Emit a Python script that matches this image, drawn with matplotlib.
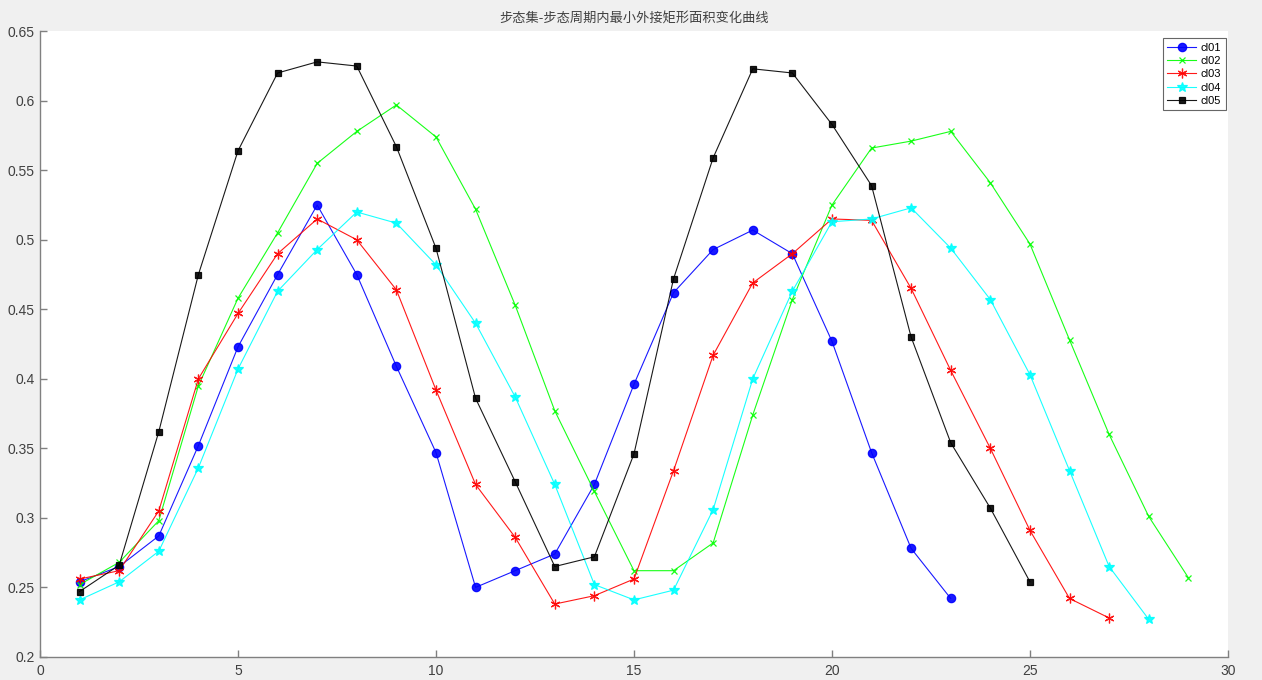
import numpy as np
import matplotlib.pyplot as plt
from matplotlib.ticker import FuncFormatter

plt.rcParams['font.family'] = ['Liberation Sans', 'Noto Sans CJK SC', 'DejaVu Sans']

title = '步态集-步态周期内最小外接矩形面积变化曲线'
names = ['cl01', 'cl02', 'cl03', 'cl04', 'cl05']

cl01 = [0.254, 0.265, 0.287, 0.352, 0.423, 0.475, 0.525, 0.475, 0.409, 0.347,
        0.250, 0.262, 0.274, 0.324, 0.396, 0.462, 0.493, 0.507, 0.490, 0.427,
        0.347, 0.278, 0.242]
cl02 = [0.252, 0.268, 0.298, 0.395, 0.458, 0.505, 0.555, 0.578, 0.597, 0.574,
        0.522, 0.453, 0.377, 0.319, 0.262, 0.262, 0.282, 0.374, 0.457, 0.525,
        0.566, 0.571, 0.578, 0.541, 0.497, 0.428, 0.360, 0.301, 0.257]
cl03 = [0.256, 0.262, 0.305, 0.400, 0.447, 0.490, 0.515, 0.500, 0.464, 0.392,
        0.324, 0.286, 0.238, 0.244, 0.256, 0.334, 0.417, 0.469, 0.490, 0.515,
        0.514, 0.465, 0.406, 0.350, 0.291, 0.242, 0.228]
cl04 = [0.241, 0.254, 0.276, 0.336, 0.407, 0.463, 0.493, 0.520, 0.512, 0.482,
        0.440, 0.387, 0.324, 0.252, 0.241, 0.248, 0.306, 0.400, 0.463, 0.513,
        0.515, 0.523, 0.494, 0.457, 0.403, 0.334, 0.265, 0.227]
cl05 = [0.247, 0.266, 0.362, 0.475, 0.564, 0.620, 0.628, 0.625, 0.567, 0.494,
        0.386, 0.326, 0.265, 0.272, 0.346, 0.472, 0.559, 0.623, 0.620, 0.583,
        0.539, 0.430, 0.354, 0.307, 0.254]

series = [cl01, cl02, cl03, cl04, cl05]
colors = ['#0000ff', '#00ff00', '#ff0000', '#00ffff', '#000000']
markers = ['o', 'x', (6, 2, 0), '*', 's']
msizes = [6, 5, 7, 7, 5]

fig = plt.figure(figsize=(12.62, 6.8), dpi=100, facecolor='#f0f0f0')
ax = fig.add_axes([0.0317, 0.034, 0.9413, 0.920])
ax.set_facecolor('white')

for name, y, c, m, ms in zip(names, series, colors, markers, msizes):
    x = np.arange(1, len(y) + 1)
    ax.plot(x, y, color=c, marker=m, markersize=ms, linewidth=0.8, alpha=0.9,
            markerfacecolor=c, markeredgecolor=c, markeredgewidth=0.9, label=name)

ax.set_xlim(0, 30)
ax.set_ylim(0.2, 0.65)
ax.set_xticks(np.arange(0, 31, 5))
ax.set_yticks(np.arange(0.2, 0.651, 0.05))
ax.yaxis.set_major_formatter(FuncFormatter(lambda v, p: '%g' % round(v, 2)))

for s in ['top', 'right']:
    ax.spines[s].set_visible(False)
for s in ['left', 'bottom']:
    ax.spines[s].set_color('#808080')
    ax.spines[s].set_linewidth(1.0)
ax.tick_params(direction='in', length=5, width=1, colors='#808080',
               labelcolor='#404040', labelsize=10)
ax.tick_params(axis='x', pad=5)
ax.tick_params(axis='y', pad=4)

ax.set_title(title, fontsize=9.5, color='#404040', pad=6,
             family=['Noto Sans CJK SC', 'DejaVu Sans'])

leg = ax.legend(loc='upper right', fontsize=8, frameon=True, fancybox=False,
                edgecolor='#404040', borderpad=0.4, labelspacing=0.3,
                handlelength=2.6, handletextpad=0.4, borderaxespad=0,
                bbox_to_anchor=(0.998, 0.989))
leg.get_frame().set_linewidth(0.8)

fig.savefig('out.png', dpi=100, facecolor=fig.get_facecolor())
